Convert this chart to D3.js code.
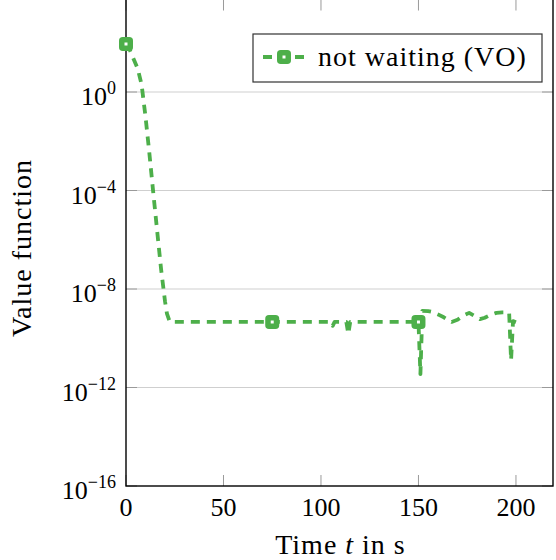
<!DOCTYPE html>
<html>
<head>
<meta charset="utf-8">
<script src="https://cdn.jsdelivr.net/npm/d3@7"></script>
<style>
  body { margin: 0; background: #fff; }
  svg { display: block; }
</style>
</head>
<body>
<script>

// series: time in s, value function (log scale)
var times = [0, 2, 4, 6, 8, 10, 12, 14, 16, 18, 20, 21, 22.5,
             75, 105, 106, 107, 113, 114, 115, 150, 151, 152,
             155, 157, 160, 163, 167, 170, 173, 176, 179, 181.5, 184, 187, 190, 193, 196.5,
             197.5, 198.5, 200];

var values = [89, 50, 21, 8.9, 2.0, 0.1, 3.2e-3, 7.9e-5, 2.2e-6, 6.3e-8, 3.2e-9, 1.0e-9, 4.6e-10,
              4.6e-10, 4.6e-10, 3.2e-10, 4.6e-10, 4.6e-10, 1.5e-10, 4.6e-10, 4.6e-10, 3.5e-12, 1.3e-9,
              1.26e-9, 1.17e-9, 9.3e-10, 7.1e-10, 4.6e-10, 5.6e-10, 8.3e-10, 1.07e-9, 7.9e-10, 6.0e-10, 6.8e-10, 8.9e-10, 1.07e-9, 1.12e-9, 1.12e-9,
              1.3e-11, 5.0e-10, 4.5e-10];

var markTimes = [0, 75, 150];

var xTicks = [0, 50, 100, 150, 200];
var yTickExps = [0, -4, -8, -12, -16];

var seriesName = "not waiting (VO)";
var green = "#4daf4a";
var serif = "'Liberation Serif'";


var width = 556, height = 560,
    plotLeft = 126, plotRight = 553, plotTop = -1.5, plotBottom = 486;

var svg = d3.select("body").append("svg")
    .attr("width", width)
    .attr("height", height)
    .style("font-family", serif);

var x = d3.scaleLinear().domain([0, 219]).range([plotLeft, plotRight]);
var y = d3.scaleLog().domain([1e-16, 1]).range([plotBottom, 92]);


// grid
svg.append("g")
    .selectAll("line")
    .data(yTickExps.slice(0, 4))
    .enter().append("line")
        .attr("x1", plotLeft).attr("x2", plotRight)
        .attr("y1", function(d) { return y(Math.pow(10, d)); })
        .attr("y2", function(d) { return y(Math.pow(10, d)); })
        .attr("stroke", "#cfcfcf")
        .attr("stroke-width", 1.2);

// ticks (inside, both sides)
var tickG = svg.append("g").attr("stroke", "#9a9a9a").attr("stroke-width", 1);

xTicks.forEach(function(t) {
    tickG.append("line").attr("x1", x(t)).attr("x2", x(t)).attr("y1", plotBottom).attr("y2", plotBottom - 11);
    tickG.append("line").attr("x1", x(t)).attr("x2", x(t)).attr("y1", plotTop).attr("y2", plotTop + 12);
});
yTickExps.forEach(function(e) {
    var yy = y(Math.pow(10, e));
    tickG.append("line").attr("x1", plotLeft).attr("x2", plotLeft + 11).attr("y1", yy).attr("y2", yy);
    tickG.append("line").attr("x1", plotRight).attr("x2", plotRight - 11).attr("y1", yy).attr("y2", yy);
});

// frame
svg.append("rect")
    .attr("x", plotLeft).attr("y", plotTop)
    .attr("width", plotRight - plotLeft).attr("height", plotBottom - plotTop)
    .attr("fill", "none")
    .attr("stroke", "#000")
    .attr("stroke-width", 1.4);

// tick labels
svg.append("g")
    .selectAll("text")
    .data(xTicks)
    .enter().append("text")
        .attr("x", function(d) { return x(d); })
        .attr("y", 516)
        .attr("text-anchor", "middle")
        .style("font-family", serif)
        .style("font-size", "26px")
        .text(function(d) { return d; });

var yLab = svg.append("g")
    .selectAll("text")
    .data(yTickExps)
    .enter().append("text")
        .attr("x", 116)
        .attr("y", function(d) { return y(Math.pow(10, d)) + 13; })
        .attr("text-anchor", "end")
        .style("font-family", serif)
        .style("font-size", "26px");

yLab.append("tspan").text("10");
yLab.append("tspan")
    .attr("dy", -11)
    .style("font-size", "18px")
    .text(function(d) { return d === 0 ? "0" : "\u2212" + Math.abs(d); });

// axis labels
var xl = svg.append("text")
    .attr("x", (plotLeft + plotRight) / 2 + 1)
    .attr("y", 554)
    .attr("text-anchor", "middle")
    .style("font-family", serif)
    .style("font-size", "28px")
    .style("letter-spacing", "1px");
xl.append("tspan").text("Time ");
xl.append("tspan").style("font-style", "italic").text("t");
xl.append("tspan").text(" in s");

svg.append("text")
    .attr("transform", "translate(31," + 248 + ") rotate(-90)")
    .attr("text-anchor", "middle")
    .style("font-family", serif)
    .style("font-size", "28px")
    .style("letter-spacing", "1px")
    .text("Value function");


// series line
var line = d3.line()
    .x(function(d) { return x(d[0]); })
    .y(function(d) { return y(d[1]); });

var pts = times.map(function(t, i) { return [t, values[i]]; });

svg.append("path")
    .datum(pts)
    .attr("d", line)
    .attr("fill", "none")
    .attr("stroke", green)
    .attr("stroke-width", 3.8)
    .attr("stroke-dasharray", "9,7")
    .attr("stroke-linejoin", "round");

// square mark: thick green outline, small white core
function marker(g, cx, cy) {
    g.append("rect")
        .attr("x", cx - 4.25).attr("y", cy - 4.25)
        .attr("width", 8.5).attr("height", 8.5)
        .attr("rx", 1)
        .attr("fill", "#fff")
        .attr("stroke", green)
        .attr("stroke-width", 5.5)
        .attr("stroke-linejoin", "round");
}

var markG = svg.append("g");
markTimes.forEach(function(t) {
    var i = times.indexOf(t);
    marker(markG, x(t), y(values[i]));
});


// legend
var leg = svg.append("g");

leg.append("rect")
    .attr("x", 253).attr("y", 34)
    .attr("width", 289).attr("height", 48)
    .attr("fill", "#fff")
    .attr("stroke", "#333")
    .attr("stroke-width", 1.2);

leg.append("line")
    .attr("x1", 263).attr("x2", 305)
    .attr("y1", 57).attr("y2", 57)
    .attr("stroke", green)
    .attr("stroke-width", 3.8)
    .attr("stroke-dasharray", "9,7");

marker(leg, 284, 57);

leg.append("text")
    .attr("x", 318).attr("y", 66)
    .style("font-family", serif)
    .style("font-size", "28px")
    .style("letter-spacing", "1px")
    .text(seriesName);

</script>
</body>
</html>
